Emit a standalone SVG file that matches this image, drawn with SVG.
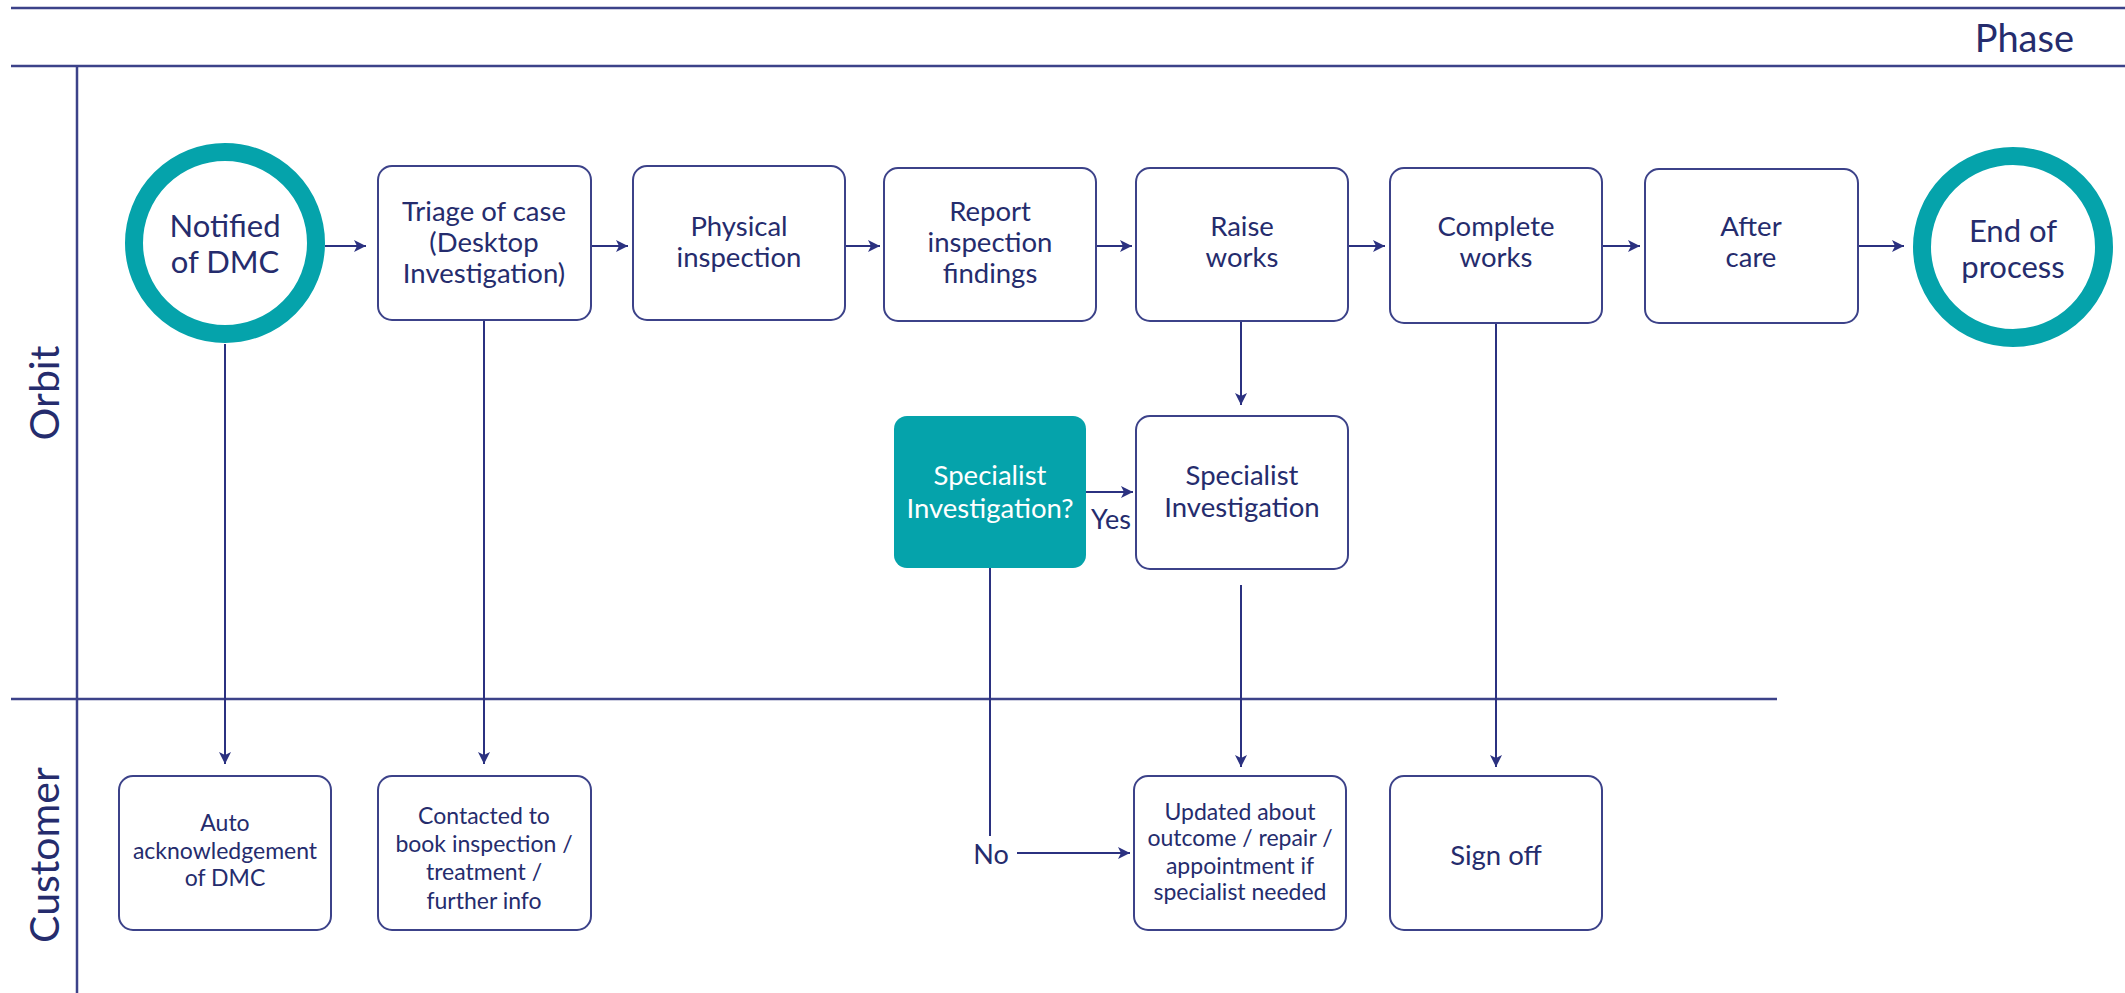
<svg xmlns="http://www.w3.org/2000/svg" width="2125" height="993" viewBox="0 0 2125 993">
<defs>
<style>
.lane{stroke:#3c4289;stroke-width:2.5;fill:none}
.box{fill:#fff;stroke:#3c4289;stroke-width:2}
.teal{fill:#05a3ab;stroke:none}
.ring{fill:#fff;stroke:#05a3ab;stroke-width:18}
.t{font-family:Lato,"Liberation Sans",sans-serif;fill:#252c6d;text-anchor:middle;dominant-baseline:central}
.b{font-size:27.5px}
.c{font-size:31px}
.s{font-size:23px}
.w{fill:#fff}
.hdr{font-family:Lato,"Liberation Sans",sans-serif;fill:#252c6d;font-size:38px}
.lt{font-family:Lato,"Liberation Sans",sans-serif;fill:#252c6d;font-size:41px;text-anchor:middle;dominant-baseline:central}
.con{stroke:#2b3180;stroke-width:2;fill:none}
</style>
<marker id="ah" viewBox="0 0 12 12" refX="12" refY="6" markerWidth="13" markerHeight="12" markerUnits="userSpaceOnUse" orient="auto">
<path d="M0,0 L12,6 L0,12 L3,6 Z" fill="#2b3180"/>
</marker>
</defs>
<rect width="2125" height="993" fill="#fff"/>

<g id="swimlanes">
<line class="lane" x1="11" y1="8" x2="2125" y2="8"/>
<line class="lane" x1="11" y1="66" x2="2125" y2="66"/>
<line class="lane" x1="77" y1="66" x2="77" y2="993" stroke-width="2"/>
<line class="lane" x1="11" y1="699" x2="1777" y2="699" stroke-width="2"/>
<text class="hdr" x="2074" y="37" text-anchor="end" dominant-baseline="central">Phase</text>
<text class="lt" x="43" y="393" transform="rotate(-90 43 393)">Orbit</text>
<text class="lt" x="43" y="855" transform="rotate(-90 43 855)">Customer</text>
</g>

<g id="connectors">
<line class="con" x1="325" y1="246" x2="366" y2="246" marker-end="url(#ah)"/>
<line class="con" x1="591" y1="246" x2="628" y2="246" marker-end="url(#ah)"/>
<line class="con" x1="845" y1="246" x2="880" y2="246" marker-end="url(#ah)"/>
<line class="con" x1="1096" y1="246" x2="1132" y2="246" marker-end="url(#ah)"/>
<line class="con" x1="1348" y1="246" x2="1385" y2="246" marker-end="url(#ah)"/>
<line class="con" x1="1602" y1="246" x2="1640" y2="246" marker-end="url(#ah)"/>
<line class="con" x1="1858" y1="246" x2="1904" y2="246" marker-end="url(#ah)"/>
<line class="con" x1="225" y1="344" x2="225" y2="764" marker-end="url(#ah)"/>
<line class="con" x1="484" y1="320" x2="484" y2="764" marker-end="url(#ah)"/>
<line class="con" x1="1241" y1="321" x2="1241" y2="405" marker-end="url(#ah)"/>
<line class="con" x1="1241" y1="585" x2="1241" y2="767" marker-end="url(#ah)"/>
<line class="con" x1="1496" y1="323" x2="1496" y2="767" marker-end="url(#ah)"/>
<line class="con" x1="1086" y1="492" x2="1133" y2="492" marker-end="url(#ah)"/>
<line class="con" x1="990" y1="568" x2="990" y2="836"/>
<line class="con" x1="1017" y1="853" x2="1130" y2="853" marker-end="url(#ah)"/>
<text class="t" x="1111" y="518" font-size="27">Yes</text>
<text class="t" x="991" y="853" font-size="27">No</text>
</g>

<g id="notified">
<circle class="ring" cx="225" cy="243" r="91"/>
<text class="t c" x="225" y="225">Notified</text>
<text class="t c" x="225" y="261">of DMC</text>
</g>
<g id="triage">
<rect class="box" x="378" y="166" width="213" height="154" rx="14"/>
<text class="t b" x="484" y="210">Triage of case</text>
<text class="t b" x="484" y="241">(Desktop</text>
<text class="t b" x="484" y="272">Investigation)</text>
</g>
<g id="physical">
<rect class="box" x="633" y="166" width="212" height="154" rx="14"/>
<text class="t b" x="739" y="225">Physical</text>
<text class="t b" x="739" y="256">inspection</text>
</g>
<g id="report">
<rect class="box" x="884" y="168" width="212" height="153" rx="14"/>
<text class="t b" x="990" y="210">Report</text>
<text class="t b" x="990" y="241">inspection</text>
<text class="t b" x="990" y="272">findings</text>
</g>
<g id="raise">
<rect class="box" x="1136" y="168" width="212" height="153" rx="14"/>
<text class="t b" x="1242" y="225">Raise</text>
<text class="t b" x="1242" y="256">works</text>
</g>
<g id="complete">
<rect class="box" x="1390" y="168" width="212" height="155" rx="14"/>
<text class="t b" x="1496" y="225">Complete</text>
<text class="t b" x="1496" y="256">works</text>
</g>
<g id="aftercare">
<rect class="box" x="1645" y="169" width="213" height="154" rx="14"/>
<text class="t b" x="1751" y="225">After</text>
<text class="t b" x="1751" y="256">care</text>
</g>
<g id="end">
<circle class="ring" cx="2013" cy="247" r="91"/>
<text class="t c" x="2013" y="230">End of</text>
<text class="t c" x="2013" y="266">process</text>
</g>
<g id="specialist-decision">
<rect class="teal" x="894" y="416" width="192" height="152" rx="13"/>
<text class="t b w" x="990" y="474">Specialist</text>
<text class="t b w" x="990" y="507">Investigation?</text>
</g>
<g id="specialist">
<rect class="box" x="1136" y="416" width="212" height="153" rx="14"/>
<text class="t b" x="1242" y="474">Specialist</text>
<text class="t b" x="1242" y="506">Investigation</text>
</g>
<g id="auto-ack">
<rect class="box" x="119" y="776" width="212" height="154" rx="14"/>
<text class="t s" x="225" y="822">Auto</text>
<text class="t s" x="225" y="850">acknowledgement</text>
<text class="t s" x="225" y="877">of DMC</text>
</g>
<g id="contacted">
<rect class="box" x="378" y="776" width="213" height="154" rx="14"/>
<text class="t s" x="484" y="815">Contacted to</text>
<text class="t s" x="484" y="843">book inspection /</text>
<text class="t s" x="484" y="871">treatment /</text>
<text class="t s" x="484" y="900">further info</text>
</g>
<g id="updated">
<rect class="box" x="1134" y="776" width="212" height="154" rx="14"/>
<text class="t s" x="1240" y="811">Updated about</text>
<text class="t s" x="1240" y="837">outcome / repair /</text>
<text class="t s" x="1240" y="865">appointment if</text>
<text class="t s" x="1240" y="891">specialist needed</text>
</g>
<g id="signoff">
<rect class="box" x="1390" y="776" width="212" height="154" rx="14"/>
<text class="t b" x="1496" y="854">Sign off</text>
</g>
</svg>
